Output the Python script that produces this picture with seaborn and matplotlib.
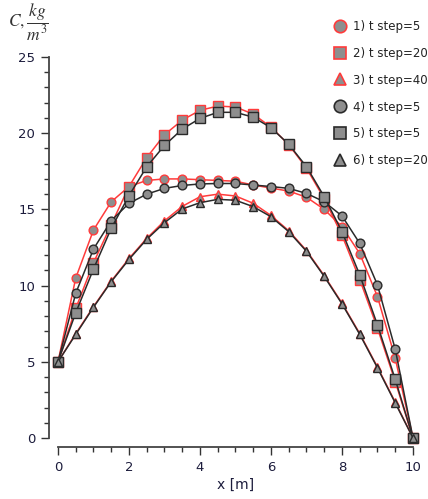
import matplotlib
matplotlib.use("Agg")
import matplotlib.pyplot as plt
from matplotlib.lines import Line2D
from matplotlib.ticker import MultipleLocator
import seaborn as sns
import pandas as pd

x = [0, 0.5, 1, 1.5, 2, 2.5, 3, 3.5, 4, 4.5, 5, 5.5, 6, 6.5, 7, 7.5, 8, 8.5, 9, 9.5, 10]

c1 = [5, 10.5, 13.65, 15.5, 16.5, 16.9, 17.0, 17.0, 16.95, 16.9, 16.85,
      16.6, 16.4, 16.2, 15.8, 15.0, 13.87, 12.1, 9.27, 5.23, 0]
c2 = [5, 8.5, 11.5, 14.0, 16.5, 18.4, 19.9, 20.86, 21.5, 21.78, 21.72,
      21.25, 20.4, 19.25, 17.7, 15.7, 13.3, 10.4, 7.2, 3.7, 0]
c3 = [5, 6.85, 8.62, 10.3, 11.78, 13.1, 14.25, 15.2, 15.83, 16.0, 15.88,
      15.4, 14.6, 13.6, 12.3, 10.65, 8.85, 6.85, 4.65, 2.35, 0]
c4 = [5, 9.5, 12.4, 14.26, 15.4, 16.0, 16.38, 16.57, 16.67, 16.7, 16.7,
      16.6, 16.5, 16.38, 16.05, 15.5, 14.57, 12.77, 10.04, 5.82, 0]
c5 = [5, 8.22, 11.09, 13.76, 15.9, 17.8, 19.2, 20.27, 20.97, 21.37, 21.37,
      21.05, 20.36, 19.27, 17.8, 15.83, 13.54, 10.7, 7.41, 3.85, 0]
c6 = [5, 6.8, 8.58, 10.26, 11.72, 13.04, 14.13, 15.03, 15.44, 15.66, 15.6,
      15.18, 14.52, 13.54, 12.25, 10.6, 8.8, 6.8, 4.6, 2.3, 0]

labels = ["1) t step=5", "2) t step=20", "3) t step=40",
          "4) t step=5", "5) t step=5", "6) t step=20"]
series = [c1, c2, c3, c4, c5, c6]
markers = ["o", "s", "^", "o", "s", "^"]
red = "#ff3b3b"
dark = "#2a2a2a"
edges = [red, red, red, dark, dark, dark]
fill = "#8e8e8e"
tick_col = "#1c1c3c"

sns.set_theme(style="ticks")
plt.rcParams["font.family"] = ["DejaVu Sans"]
plt.rcParams["mathtext.fontset"] = "stix"

fig = plt.figure(figsize=(4.28, 4.99), dpi=100)
ax = fig.add_axes([58 / 428, 1 - 438 / 499, 355 / 428, 381 / 499])

for lab, vals, m, ec in zip(labels, series, markers, edges):
    df = pd.DataFrame({"x": x, "C": vals})
    ms = 6.3 if m != "s" else 6.6
    sns.lineplot(data=df, x="x", y="C", ax=ax, color=ec, linewidth=1.1,
                 marker=m, markersize=ms, markerfacecolor=fill,
                 markeredgecolor=ec, markeredgewidth=1.0,
                 clip_on=False, legend=False)

ax.set_xlim(0, 10)
ax.set_ylim(0, 25)
ax.xaxis.set_major_locator(MultipleLocator(2))
ax.xaxis.set_minor_locator(MultipleLocator(0.5))
ax.yaxis.set_major_locator(MultipleLocator(5))
ax.yaxis.set_minor_locator(MultipleLocator(1))
ax.tick_params(which="major", length=6, width=1.0, color="#333333",
               labelsize=9.5, labelcolor=tick_col, pad=4)
ax.tick_params(which="minor", length=3.5, width=1.0, color="#333333")
sns.despine(ax=ax, offset=6.5)
for s in ["left", "bottom"]:
    ax.spines[s].set_color("#444444")
    ax.spines[s].set_linewidth(1.3)

ax.set_xlabel("x [m]", fontsize=10, color=tick_col, labelpad=3)
ax.set_ylabel("")
fig.text(8 / 428, 1 - 22 / 499, r"$C,\dfrac{kg}{m^3}$", fontsize=12.5,
         color="#333333", va="center", ha="left")

handles = [Line2D([], [], linestyle="none", marker=m, markersize=9,
                  markerfacecolor=fill, markeredgecolor=ec,
                  markeredgewidth=1.2)
           for m, ec in zip(markers, edges)]
fig.legend(handles, labels, loc="upper left",
           bbox_to_anchor=(329 / 428, 1 - 15 / 499), frameon=False,
           fontsize=8.5, handlelength=1.0, handletextpad=0.6,
           labelspacing=1.18, borderaxespad=0, labelcolor="#222222")

fig.savefig("out.png", dpi=100)
